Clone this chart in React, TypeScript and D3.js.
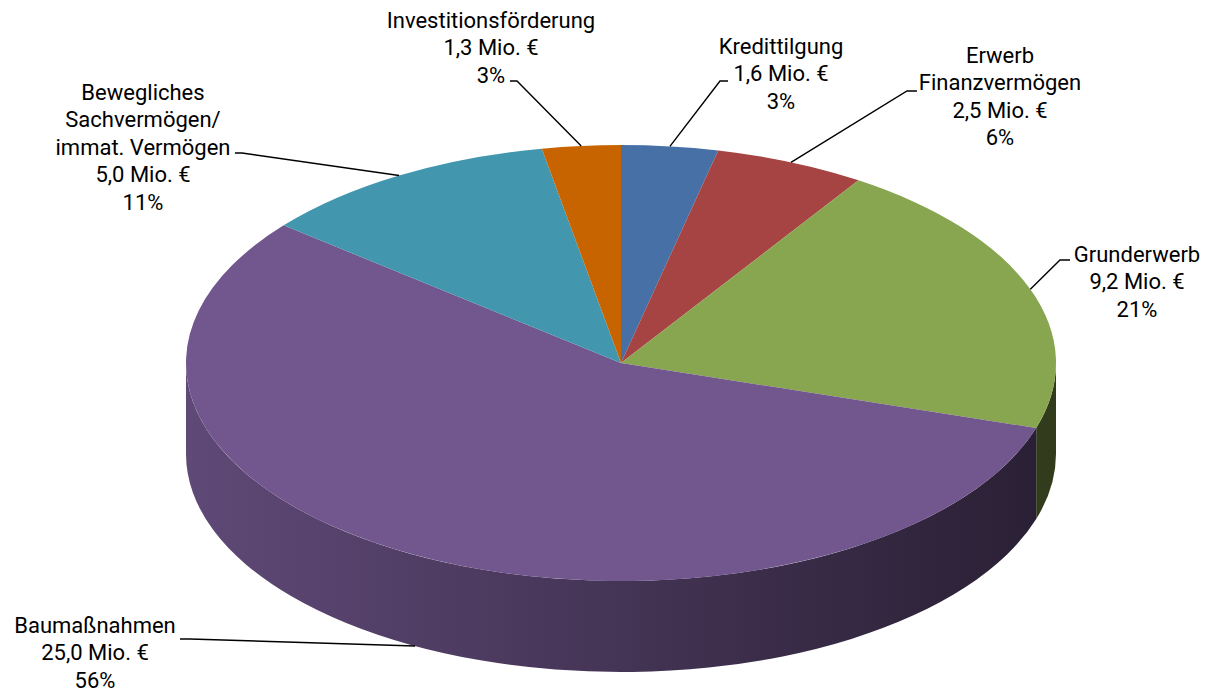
import * as d3 from 'd3';

const categories = [
  'Kredittilgung',
  'Erwerb\nFinanzvermögen',
  'Grunderwerb',
  'Baumaßnahmen',
  'Bewegliches\nSachvermögen/\nimmat. Vermögen',
  'Investitionsförderung',
];
const values = [1.6, 2.5, 9.2, 25.0, 5.0, 1.3];
const shares = [3, 6, 21, 56, 11, 3];
const colors = ['#4670a6', '#a64444', '#88a54f', '#71578e', '#4296ae', '#c86400'];

const W = 1209;
const H = 691;
const cx = 621, cy = 363, rx = 435, ry = 218, depth = 91;
const lineGap = 27.4;

// label anchor (centre x, first baseline) and leader start / knee
const labelLayout = [
  { x: 781, y: 54, lead: [[728, 81], [720, 81]] },
  { x: 1000, y: 63, lead: [[917, 91], [907, 91]] },
  { x: 1137, y: 262, lead: [[1070, 260], [1060, 260]] },
  { x: 95, y: 633, lead: [[180, 639], [190, 639]] },
  { x: 143, y: 100, lead: [[235, 153], [242, 153]] },
  { x: 491, y: 28, lead: [[510, 81], [517, 81]] },
];

const pt = (a: number, dy = 0): [number, number] => [cx + rx * Math.sin(a), cy - ry * Math.cos(a) + dy];

const shade = (c: string, k: number) => {
  const col = d3.rgb(c);
  return d3.rgb(col.r * k, col.g * k, col.b * k).formatHex();
};

const fmtValue = (v: number) => d3.format('.1f')(v).replace('.', ',') + ' Mio. €';

export default function App() {
  const arcs = d3.pie<number>().sort(null).value(d => d)(values);

  const topPath = (a0: number, a1: number) => {
    const [x0, y0] = pt(a0);
    const [x1, y1] = pt(a1);
    const large = a1 - a0 > Math.PI ? 1 : 0;
    return `M${cx},${cy}L${x0},${y0}A${rx},${ry} 0 ${large} 1 ${x1},${y1}Z`;
  };

  const sidePath = (a0: number, a1: number) => {
    const [x0, y0] = pt(a0);
    const [x1, y1] = pt(a1);
    const [x2, y2] = pt(a1, depth);
    const [x3, y3] = pt(a0, depth);
    return `M${x0},${y0}A${rx},${ry} 0 0 1 ${x1},${y1}L${x2},${y2}A${rx},${ry} 0 0 0 ${x3},${y3}Z`;
  };

  return (
    <svg
      width={W}
      height={H}
      style={{ position: 'absolute', left: 0, top: 0, display: 'block', background: '#fff' }}
      fontFamily="Roboto, sans-serif"
    >
      <defs>
        {colors.map((c, i) => (
          <linearGradient key={i} id={`side${i}`} gradientUnits="userSpaceOnUse" x1={cx - rx} x2={cx + rx} y1={0} y2={0}>
            <stop offset="0" stopColor={shade(c, 0.84)} />
            <stop offset="0.5" stopColor={shade(c, 0.6)} />
            <stop offset="1" stopColor={shade(c, 0.36)} />
          </linearGradient>
        ))}
      </defs>

      {/* side walls, only the front half is visible */}
      {arcs.map((a, i) => {
        const s0 = Math.max(a.startAngle, Math.PI / 2);
        const s1 = Math.min(a.endAngle, (3 * Math.PI) / 2);
        if (s0 >= s1) return null;
        return <path key={'s' + i} d={sidePath(s0, s1)} fill={`url(#side${i})`} />;
      })}

      {/* top face */}
      {arcs.map((a, i) => (
        <path key={'t' + i} d={topPath(a.startAngle, a.endAngle)} fill={colors[i]} />
      ))}

      {/* leader lines */}
      {arcs.map((a, i) => {
        const mid = (a.startAngle + a.endAngle) / 2;
        const onFront = Math.cos(mid) < -0.3;
        const end = pt(mid, onFront ? depth : 0);
        const pts = [...labelLayout[i].lead, end] as [number, number][];
        return (
          <polyline
            key={'l' + i}
            points={pts.map(p => p.join(',')).join(' ')}
            fill="none"
            stroke="#000"
            strokeWidth={1.4}
          />
        );
      })}

      {/* labels */}
      {arcs.map((a, i) => {
        const lines = [...categories[i].split('\n'), fmtValue(values[i]), `${shares[i]}%`];
        const { x, y } = labelLayout[i];
        return (
          <text key={'x' + i} textAnchor="middle" fontSize={22} fill="#000">
            {lines.map((ln, j) => (
              <tspan key={j} x={x} y={y + j * lineGap}>
                {ln}
              </tspan>
            ))}
          </text>
        );
      })}
    </svg>
  );
}
